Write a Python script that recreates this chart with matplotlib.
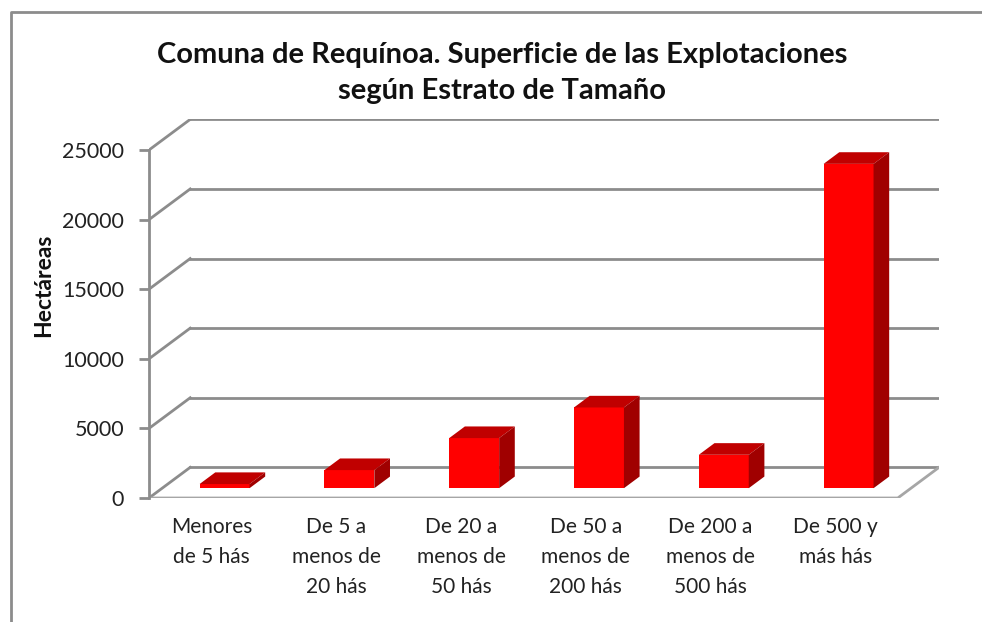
import matplotlib.pyplot as plt
from matplotlib.patches import Polygon
import numpy as np

# datos
categorias = ['Menores\nde 5 hás', 'De 5 a\nmenos de\n20 hás', 'De 20 a\nmenos de\n50 hás',
              'De 50 a\nmenos de\n200 hás', 'De 200 a\nmenos de\n500 hás', 'De 500 y\nmás hás']
hectareas = [300, 1300, 3600, 5800, 2400, 23300]
marcas_y = [0, 5000, 10000, 15000, 20000, 25000]

plt.rcParams['font.family'] = ['Lato', 'DejaVu Sans']

W, H = 982, 622
fig = plt.figure(figsize=(W / 100, H / 100), dpi=100)

# efecto 3D (oblicuo) en unidades de datos
prof_x = 0.33      # desplazamiento de la pared del fondo en categorias
prof_y = 2200      # desplazamiento en hectareas
f0, f1 = 0.32, 0.70  # profundidad de la cara frontal y trasera de las barras
ancho = 0.4

ymax = marcas_y[-1] + prof_y
xmin, xmax = -0.5, len(categorias) - 0.5 + prof_x
px_x = 124.8
px_y = 348 / 25000
ax = fig.add_axes([149 / W, 124 / H, (xmax - xmin) * px_x / W, ymax * px_y / H])
ax.set_xlim(xmin, xmax)
ax.set_ylim(0, ymax)

gris = '#8c8c8c'
x0, x1 = -0.5, len(categorias) - 0.5

# lineas de la pared del fondo y pared izquierda
for v in marcas_y:
    ax.plot([x0 + prof_x, x1 + prof_x], [v + prof_y, v + prof_y], color=gris, lw=2, zorder=1)
    ax.plot([x0, x0 + prof_x], [v, v + prof_y], color=gris, lw=2, zorder=1)

# piso
ax.plot([x0, x1, x1 + prof_x], [0, 0, prof_y], color='#a6a6a6', lw=2, zorder=1)

# barras
x = np.arange(len(categorias))
base = f0 * prof_y
xc = x + f0 * prof_x
ax.bar(xc, hectareas, width=ancho, bottom=base, color='#ff0000', zorder=3)
ddx = (f1 - f0) * prof_x
ddy = (f1 - f0) * prof_y
for xi, v in zip(xc, hectareas):
    xl, xr = xi - ancho / 2, xi + ancho / 2
    top = base + v
    ax.add_patch(Polygon([(xl, top), (xr, top), (xr + ddx, top + ddy), (xl + ddx, top + ddy)],
                         closed=True, facecolor='#c00000', edgecolor='none', zorder=3))
    ax.add_patch(Polygon([(xr, base), (xr + ddx, base + ddy), (xr + ddx, top + ddy), (xr, top)],
                         closed=True, facecolor='#a00000', edgecolor='none', zorder=3))

# ejes
for s in ['top', 'right', 'bottom']:
    ax.spines[s].set_visible(False)
ax.spines['left'].set_bounds(0, marcas_y[-1])
ax.spines['left'].set_color(gris)
ax.spines['left'].set_linewidth(2)
ax.set_yticks(marcas_y)
ax.set_yticklabels([str(v) for v in marcas_y])
ax.tick_params(axis='y', colors=gris, labelcolor='#222222', length=7, width=2,
               labelsize=15.5, pad=11)
ax.set_xticks(x)
ax.set_xticklabels(categorias, fontsize=15, color='#222222', linespacing=1.6)
ax.tick_params(axis='x', length=0, pad=14)
ax.patch.set_visible(False)

# titulo y etiqueta
fig.text(502 / W, 1 - 73 / H, 'Comuna de Requínoa. Superficie de las Explotaciones\nsegún Estrato de Tamaño',
         ha='center', va='center', fontsize=21, fontweight='bold', linespacing=1.45, color='#111111')
fig.text(44 / W, 1 - 285 / H, 'Hectáreas', rotation=90, ha='center', va='center',
         fontsize=16.5, fontweight='bold', color='#111111')

# marco del grafico
fig.add_artist(plt.Line2D([11 / W, 11 / W, 1], [0, 1 - 12 / H, 1 - 12 / H],
                          color='#8c8c8c', lw=2, transform=fig.transFigure))

fig.savefig('out.png', dpi=100)
